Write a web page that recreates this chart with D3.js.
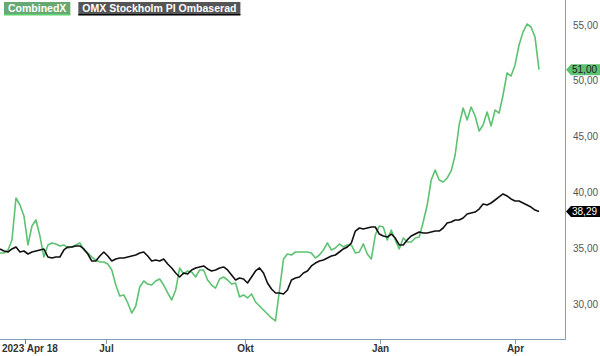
<!DOCTYPE html>
<html><head><meta charset="utf-8">
<script src="https://cdn.jsdelivr.net/npm/d3@7"></script>
<style>body{margin:0;background:#fff}svg{display:block;font-family:"Liberation Sans",Arial,sans-serif}</style>
</head><body><svg id="c" width="600" height="356"></svg>
<script>
const seriesNames = ["CombinedX", "OMX Stockholm PI Ombaserad"];
const combinedX = [34.57,34.57,34.84,35.74,39.50,38.87,37.89,35.29,36.99,37.53,36.09,34.21,35.29,35.47,35.38,35.20,35.29,35.02,35.11,35.29,35.47,34.84,34.57,34.21,33.94,33.76,33.76,33.58,33.05,31.70,30.72,30.81,30.09,29.19,29.82,31.52,32.06,31.79,31.70,32.06,32.24,31.70,30.99,30.36,31.25,33.23,32.69,32.96,32.87,32.42,33.05,33.05,32.15,31.70,31.43,32.24,32.42,32.15,31.79,31.88,30.63,30.81,30.54,30.90,30.18,29.82,29.46,29.10,28.75,28.48,31.25,34.03,34.48,34.39,34.66,34.66,34.66,34.66,34.57,34.12,34.39,34.84,35.47,34.84,35.02,35.38,35.11,35.29,35.29,34.57,34.66,35.38,34.48,34.03,36.18,36.99,36.90,35.74,36.63,35.74,34.93,35.91,35.56,35.56,35.91,36.00,37.35,38.87,41.11,42.01,41.11,40.93,41.29,41.92,43.35,46.04,47.56,46.49,47.65,46.85,45.50,46.04,47.20,45.95,47.38,47.11,48.73,50.70,50.43,51.42,53.21,54.37,55.09,54.82,53.92,51.00];
const omxPI = [34.93,34.75,34.66,34.93,35.11,34.66,34.75,34.48,34.66,34.75,34.84,34.93,34.21,34.12,34.21,34.21,34.84,35.11,35.11,35.20,35.20,34.93,34.48,33.85,33.85,34.30,34.66,34.30,33.85,34.03,34.12,34.12,34.21,34.30,34.39,34.57,34.66,34.30,33.85,33.94,33.85,34.03,33.58,33.23,32.78,32.42,32.78,32.69,33.05,33.23,33.32,33.41,33.14,32.96,33.05,33.23,33.32,33.05,32.60,32.15,32.33,32.24,31.88,32.42,32.96,33.23,32.78,31.88,31.34,30.99,30.99,30.90,31.25,32.15,32.33,32.42,32.78,32.96,33.41,33.67,33.85,33.94,34.12,34.30,34.39,34.66,34.93,35.11,35.47,36.54,36.81,36.72,36.81,36.90,36.90,36.27,36.09,36.00,36.27,35.91,35.29,35.29,35.74,36.09,36.27,36.45,36.36,36.36,36.45,36.54,36.54,36.81,37.26,37.35,37.53,37.53,37.71,38.06,38.15,38.24,38.51,38.96,38.87,39.05,39.32,39.59,39.86,39.68,39.41,39.23,39.23,39.05,38.87,38.69,38.42,38.29];
const xTickLabels = ["2023 Apr 18", "Jul", "Okt", "Jan", "Apr"];
const xTickIndex = [6.26, 26.55, 61.36, 95.18, 128.99];
const yTicks = [30, 35, 40, 45, 50, 55];

const svg = d3.select("#c");
const W = 600;
const plotRight = 565, plotBottom = 339;
const x = d3.scaleLinear().domain([0, combinedX.length - 1]).range([0, 539]);
const y = d3.scaleLinear().domain([30, 55]).range([304, 25]);
const loc = d3.formatLocale({decimal: ",", thousands: " ", grouping: [3], currency: ["", ""]});
const fmt = loc.format(".2f");

const green = "#5dc271", black = "#111";
const axisCol = "#7f9db3";

// lines
const line = d3.line().x((d, i) => x(i)).y(d => y(d));
svg.append("path").datum(combinedX).attr("d", line).attr("fill", "none").attr("stroke", green).attr("stroke-width", 1.6).attr("stroke-linejoin", "round");
svg.append("path").datum(omxPI).attr("d", line).attr("fill", "none").attr("stroke", black).attr("stroke-width", 1.6).attr("stroke-linejoin", "round");

// frame
svg.append("line").attr("x1", 0).attr("x2", plotRight + 0.5).attr("y1", plotBottom + 0.5).attr("y2", plotBottom + 0.5).attr("stroke", axisCol);
svg.append("line").attr("x1", plotRight + 0.5).attr("x2", plotRight + 0.5).attr("y1", 0).attr("y2", plotBottom + 0.5).attr("stroke", axisCol);

// x ticks
xTickIndex.forEach((ix, k) => {
  const px = Math.round(x(ix)) + 0.5;
  svg.append("line").attr("x1", px).attr("x2", px).attr("y1", plotBottom).attr("y2", plotBottom + 5)
    .attr("stroke", k === 0 ? "#e0504a" : axisCol).attr("stroke-width", 1);
  const t = svg.append("text").attr("y", 352).attr("font-size", 10).attr("font-weight", "bold").attr("fill", "#333").text(xTickLabels[k]);
  if (k === 0) t.attr("x", 2).attr("text-anchor", "start");
  else t.attr("x", px).attr("text-anchor", "middle");
});

// y labels
yTicks.forEach(v => {
  svg.append("text").attr("x", 573).attr("y", y(v)).attr("dy", "0.35em").attr("font-size", 10).attr("fill", "#555").text(fmt(v));
});

// value tags
function tag(v, bg, fg) {
  const cy = y(v);
  const pts = [[566, cy], [571, cy - 5.5], [600, cy - 5.5], [600, cy + 5.5], [571, cy + 5.5]];
  svg.append("polygon").attr("points", pts.map(p => p.join(",")).join(" ")).attr("fill", bg);
  svg.append("text").attr("x", 572).attr("y", cy).attr("dy", "0.36em").attr("font-size", 10).attr("fill", fg).text(fmt(v));
}
tag(combinedX[combinedX.length - 1], green, "#1a1a1a");
tag(omxPI[omxPI.length - 1], "#000", "#fff");

// legend
const legend = [{name: seriesNames[0], bg: "#67a873", ul: "#5dd271"}, {name: seriesNames[1], bg: "#555", ul: "#000"}];
let lx = 4;
legend.forEach(l => {
  const g = svg.append("g");
  const t = g.append("text").attr("x", lx + 4).attr("y", 12).attr("font-size", 10.5).attr("font-weight", "bold").attr("fill", "#fff").text(l.name);
  const w = t.node().getComputedTextLength() + 8;
  g.insert("rect", "text").attr("x", lx).attr("y", 2).attr("width", w).attr("height", 13).attr("fill", l.bg);
  g.insert("rect", "text").attr("x", lx).attr("y", 14).attr("width", w).attr("height", 1.5).attr("fill", l.ul);
  lx += w + 8;
});
</script></body></html>
